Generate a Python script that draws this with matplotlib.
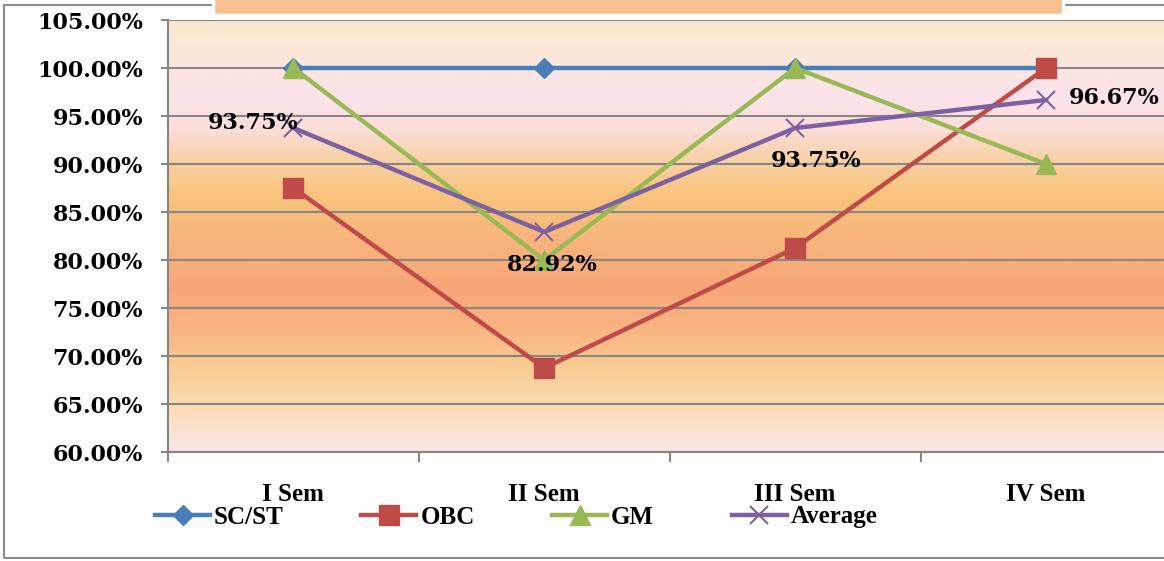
import matplotlib
matplotlib.use('Agg')
import matplotlib.pyplot as plt
import numpy as np
from matplotlib.patches import Rectangle
from matplotlib.colors import to_rgb
from matplotlib.ticker import FixedLocator, FuncFormatter
from matplotlib.font_manager import FontProperties

# data
sems = ['I Sem', 'II Sem', 'III Sem', 'IV Sem']
sc_st = [100.0, 100.0, 100.0, 100.0]
obc = [87.5, 68.75, 81.25, 100.0]
gm = [100.0, 80.0, 100.0, 90.0]
average = [93.75, 82.92, 93.75, 96.67]
yticks = [60, 65, 70, 75, 80, 85, 90, 95, 100, 105]

W, H = 1164, 561
fig = plt.figure(figsize=(W / 100, H / 100), dpi=100)

# outer chart border + empty title box
fig.add_artist(Rectangle((4 / W, 1 - 558 / H), 1.2, (558 - 5) / H, transform=fig.transFigure,
                         fill=False, ec='#8c8c8c', lw=1.5))
fig.add_artist(Rectangle((213 / W, 1 - 15 / H), (1063 - 213) / W, 0.1, transform=fig.transFigure,
                         fc='#F9C08F', ec='white', lw=2.5, zorder=3))

left, right, top, bottom = 168, 1171.5, 20, 452
ax = fig.add_axes([left / W, 1 - bottom / H, (right - left) / W, (bottom - top) / H])

# gradient background (top -> bottom)
stops = [(0.00, '#FBE8CB'), (0.11, '#FCE6E0'), (0.18, '#FCE3EC'), (0.25, '#FCDFDA'),
         (0.32, '#FAD2A8'), (0.40, '#F9C57E'), (0.50, '#F8B67C'), (0.62, '#F8A678'),
         (0.72, '#F9B582'), (0.80, '#F9CB90'), (0.89, '#FADCB2'), (1.00, '#FCE6E9')]
t = np.linspace(0, 1, 400)
pos = [s[0] for s in stops]
cols = np.array([to_rgb(s[1]) for s in stops])
grad = np.stack([np.interp(t, pos, cols[:, k]) for k in range(3)], axis=1)
ax.imshow(grad[:, None, :], extent=[-0.5, 3.5, 60, 105], aspect='auto', origin='upper', zorder=0)

x = np.arange(len(sems))
lw = 3.2
ax.plot(x, sc_st, color='#4A7EBB', lw=lw, marker='D', ms=10, label='SC/ST', zorder=3)
ax.plot(x, obc, color='#BE4B48', lw=lw, marker='s', ms=14, label='OBC', zorder=3)
ax.plot(x, gm, color='#98B954', lw=lw, marker='^', ms=15, label='GM', zorder=3)
ax.plot(x, average, color='#7D60A0', lw=lw, marker='x', ms=13, mew=1.5, label='Average', zorder=4)

lab_font = dict(family='DejaVu Serif', weight='bold', size=16)
offsets = [(5, 5, 'right'), (8, -33, 'center'), (21, -33, 'center'), (23, 2, 'left')]
for i, v in enumerate(average):
    dx, dy, ha = offsets[i]
    ax.annotate(f'{v:.2f}%', (x[i], v), xytext=(dx * 0.72, dy * 0.72), textcoords='offset points',
                ha=ha, va='center', zorder=5, **lab_font)

ax.set_xlim(-0.5, 3.5)
ax.set_ylim(60, 105)
ax.set_yticks(yticks)
ax.yaxis.set_major_formatter(FuncFormatter(lambda v, p: f'{v:.2f}%'))
ax.set_xticks(x)
ax.set_xticklabels(sems)
ax.xaxis.set_minor_locator(FixedLocator([-0.5, 0.5, 1.5, 2.5]))
ax.tick_params(axis='x', which='major', length=0, pad=22)
ax.tick_params(axis='x', which='minor', length=7, width=1.5, color='#868686', direction='out')
ax.tick_params(axis='y', length=5, width=1.5, color='#868686', pad=13)
for lbl in ax.get_yticklabels():
    lbl.set_fontproperties(FontProperties(**lab_font))
serif_b = FontProperties(family='Liberation Serif', weight='bold', size=18)
for lbl in ax.get_xticklabels():
    lbl.set_fontproperties(serif_b)

ax.grid(axis='y', color='#868686', lw=1.5)
ax.set_axisbelow(True)
for s in ['top', 'right']:
    ax.spines[s].set_visible(False)
for s in ['left', 'bottom']:
    ax.spines[s].set_color('#868686')
    ax.spines[s].set_linewidth(1.5)

fig.legend(loc='center left', bbox_to_anchor=(155 / W, 1 - 517 / H), ncol=4, frameon=False,
           prop=serif_b, handlelength=2.2, handletextpad=0.16, columnspacing=3.1,
           borderpad=0, borderaxespad=0)

fig.savefig('out.png', dpi=100)
